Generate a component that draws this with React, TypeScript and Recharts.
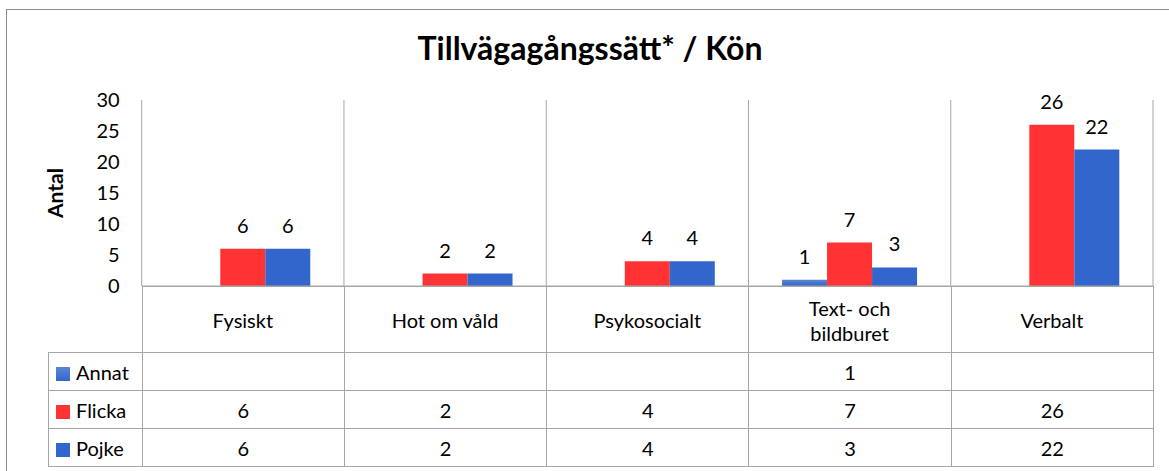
import { BarChart, Bar, XAxis, YAxis, CartesianGrid, LabelList } from 'recharts';

const categories = ['Fysiskt', 'Hot om våld', 'Psykosocialt', 'Text- och bildburet', 'Verbalt'];
const annat: (number | null)[] = [null, null, null, 1, null];
const flicka = [6, 2, 4, 7, 26];
const pojke = [6, 2, 4, 3, 22];
const yTicks = [0, 5, 10, 15, 20, 25, 30];

const series = [
  { key: 'annat', name: 'Annat', values: annat, fill: 'url(#annatGrad)', swatch: 'linear-gradient(#5a86d4, #3366cc)' },
  { key: 'flicka', name: 'Flicka', values: flicka, fill: '#ff3333', swatch: '#ff3333' },
  { key: 'pojke', name: 'Pojke', values: pojke, fill: '#3366cc', swatch: '#3366cc' },
];

const data = categories.map((name, i) => ({
  name,
  annat: annat[i],
  flicka: flicka[i],
  pojke: pojke[i],
}));

const FONT = 'Lato, "Open Sans", sans-serif';
const FS = 20;
const GRID = '#a6a6a6';
const PLOT_LEFT = 141.7;
const PLOT_RIGHT = 1153;
const TABLE_LEFT = 48;
const COL_W = (PLOT_RIGHT - PLOT_LEFT) / categories.length;

// split long category names on a space, like Excel wraps them
function wrap(label: string): string[] {
  if (label.length <= 14) return [label];
  const idx = label.lastIndexOf(' ', Math.ceil(label.length / 2) + 1);
  return [label.slice(0, idx), label.slice(idx + 1)];
}

function CategoryTick(props: any) {
  const { x, payload } = props;
  const lines = wrap(String(payload.value));
  const mid = 320;
  const lh = 25;
  const start = mid - ((lines.length - 1) * lh) / 2;
  return (
    <g>
      {lines.map((l, i) => (
        <text key={i} x={x} y={start + i * lh} textAnchor="middle" dominantBaseline="central"
          fontFamily={FONT} fontSize={FS} fill="#000">
          {l}
        </text>
      ))}
    </g>
  );
}

const cellBase: React.CSSProperties = {
  border: `1px solid ${GRID}`,
  padding: 0,
  textAlign: 'center',
  fontFamily: FONT,
  fontSize: FS,
  color: '#000',
};

export default function App() {
  return (
    <div style={{ position: 'absolute', left: 0, top: 0, width: 1169, height: 471, background: '#fff', overflow: 'hidden' }}>
      {/* outer chart frame, cropped on right and bottom */}
      <div style={{ position: 'absolute', left: 6, top: 9, width: 1200, height: 500, border: '1px solid #8c8c8c' }} />

      <div style={{ position: 'absolute', left: 0, width: 1180, top: 28, textAlign: 'center', fontFamily: FONT, fontWeight: 700, fontSize: 32, color: '#000' }}>
        Tillvägagångssätt* / Kön
      </div>

      {/* label row + data table */}
      <table style={{ position: 'absolute', left: TABLE_LEFT, top: 286, borderCollapse: 'collapse', tableLayout: 'fixed', width: PLOT_RIGHT - TABLE_LEFT }}>
        <colgroup>
          <col style={{ width: PLOT_LEFT - TABLE_LEFT }} />
          {categories.map((c) => <col key={c} style={{ width: COL_W }} />)}
        </colgroup>
        <tbody>
          <tr style={{ height: 66 }}>
            <td style={{ ...cellBase, borderTop: 'none', borderLeft: 'none' }} />
            {categories.map((c) => <td key={c} style={cellBase} />)}
          </tr>
          {series.map((s) => (
            <tr key={s.key} style={{ height: 38 }}>
              <td style={{ ...cellBase, textAlign: 'left', paddingLeft: 7, whiteSpace: 'nowrap' }}>
                <span style={{ display: 'inline-block', width: 14, height: 14, background: s.swatch, marginRight: 6, verticalAlign: -1 }} />
                {s.name}
              </td>
              {s.values.map((v, i) => <td key={i} style={cellBase}>{v ?? ''}</td>)}
            </tr>
          ))}
        </tbody>
      </table>

      <div style={{ position: 'absolute', left: 0, top: 0 }}>
        <BarChart width={1169} height={471} data={data}
          margin={{ top: 100, right: 1169 - PLOT_RIGHT, bottom: 471 - 352, left: PLOT_LEFT - 100 }}
          barCategoryGap="16.6%" barGap={0}>
          <defs>
            <linearGradient id="annatGrad" x1="0" y1="0" x2="0" y2="1">
              <stop offset="0%" stopColor="#5a86d4" />
              <stop offset="100%" stopColor="#3366cc" />
            </linearGradient>
          </defs>
          <CartesianGrid horizontal={false} stroke={GRID}
            verticalCoordinatesGenerator={({ offset }: any) =>
              categories.map((_, i) => offset.left + i * (offset.width / categories.length)).concat(offset.left + offset.width)} />
          <XAxis dataKey="name" height={66} axisLine={{ stroke: GRID }} tickLine={false} tickSize={0}
            interval={0} tick={<CategoryTick />} />
          <YAxis width={100} domain={[0, 30]} ticks={yTicks} axisLine={false} tickLine={false}
            tickSize={0} tickMargin={22}
            tick={{ fontFamily: FONT, fontSize: FS, fill: '#000' }}
            label={{ value: 'Antal', angle: -90, position: 'center', dx: -36, style: { fontFamily: FONT, fontWeight: 700, fontSize: 21, fill: '#000' } }} />
          {series.map((s) => (
            <Bar key={s.key} dataKey={s.key} name={s.name} fill={s.fill} isAnimationActive={false}>
              <LabelList dataKey={s.key} position="top" offset={16}
                style={{ fontFamily: FONT, fontSize: FS, fill: '#000' }} />
            </Bar>
          ))}
        </BarChart>
      </div>
    </div>
  );
}
